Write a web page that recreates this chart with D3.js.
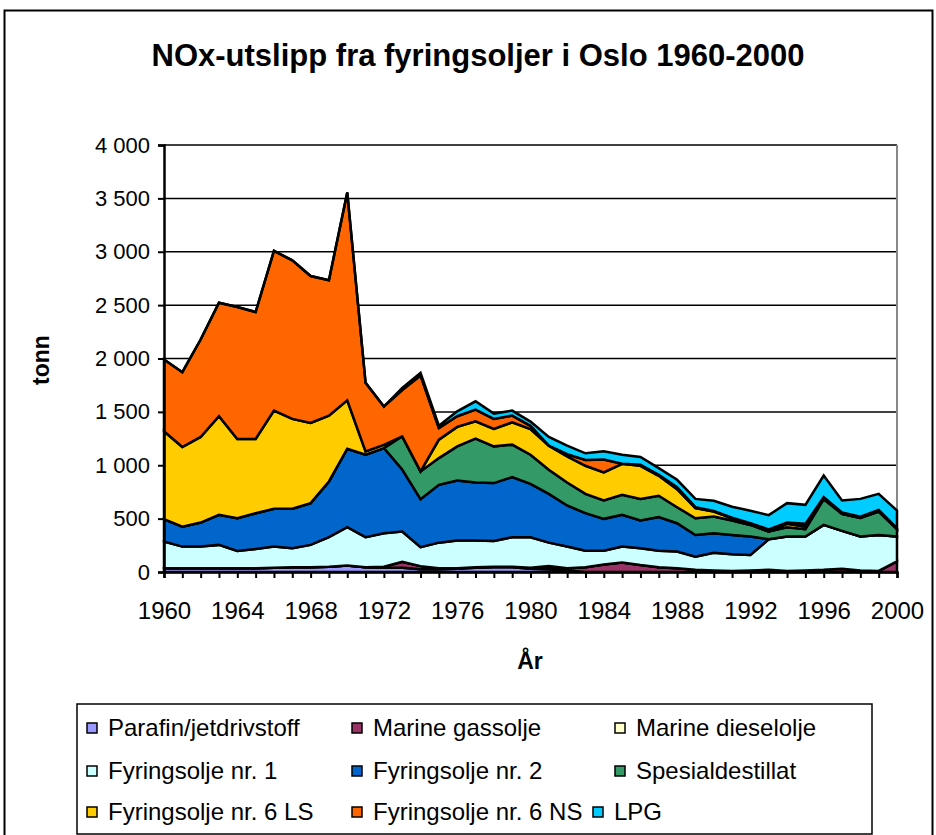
<!DOCTYPE html>
<html>
<head>
<meta charset="utf-8">
<script src="https://cdn.jsdelivr.net/npm/d3@7"></script>
<style>
  body { margin: 0; background: #fff; }
  svg text { font-family: "Liberation Sans", Arial, sans-serif; fill: #000; }
</style>
</head>
<body>
<svg id="chart" width="936" height="835"></svg>
<script>
// år og serier (tonn NOx), lest av figuren
const years = d3.range(1960, 2001)
const keys = ["parafin", "gassolje", "diesel", "nr1", "nr2", "spesial", "ls6", "ns6", "lpg"]
const labels = ["Parafin/jetdrivstoff", "Marine gassolje", "Marine dieselolje",
  "Fyringsolje nr. 1", "Fyringsolje nr. 2", "Spesialdestillat",
  "Fyringsolje nr. 6 LS", "Fyringsolje nr. 6 NS", "LPG"]
const colors = ["#9999FF", "#993366", "#FFFFCC", "#CCFFFF", "#0066CC", "#339966", "#FFCC00", "#FF6600", "#00CCFF"]

const parafin = [35,35,35,35,35,35,40,45,45,50,60,45,40,40,25,25,30,40,45,45,30,25,15,
  0,0,0,0,0,0,0,0,0,0,0,0,0,0,0,0,0,0]
const gassolje = [0,0,0,0,0,0,0,0,0,0,0,0,
  10,55,30,10,5,5,5,5,5,5,20,45,70,90,65,45,35,20,15,10,15,20,10,15,20,30,15,10,100]
const diesel = [0,0,0,0,0,0,0,0,0,0,0,0,0,0,0,0,0,0,0,0,5,25,
  0,0,0,0,0,0,0,0,0,0,0,0,0,0,0,0,0,0,0]
const nr1 = [250,203,203,219,162,181,198,177,209,276,359,281,313,284,177,240,259,249,241,276,
  286,220,203,155,130,148,157,155,156,124,166,156,145,287,322,317,421,355,317,337,232]
const nr2 = [210,187,225,281,307,335,354,370,391,522,736,773,798,581,450,542,563,545,542,563,
  500,457,385,351,298,297,260,315,266,203,182,181,172,0,0,0,0,0,0,0,0]
const spesial = [0,0,0,0,0,0,0,0,0,0,0,0,0,
  311,260,250,320,410,344,304,273,226,216,181,172,188,201,199,150,157,156,135,109,72,88,69,241,160,175,219,69]
const ls6 = [823,746,802,924,742,695,920,842,751,617,454,31,30,0,0,172,182,162,163,209,
  240,225,244,263,263,291,312,187,169,94,47,22,8,0,31,25,9,0,0,5,0]
const ns6 = [672,701,913,1064,1236,1189,1496,1486,1377,1268,1947,642,359,434,898,110,100,110,94,63,
  30,0,20,55,120,0,10,10,19,9,7,5,8,20,12,25,10,12,12,11,9]
const lpg = [0,0,0,0,0,0,0,0,0,0,0,0,0,
  20,26,22,46,78,50,47,40,82,81,62,78,85,72,62,69,78,94,103,116,134,182,178,203,113,166,150,166]
const yTicks = [0, 500, 1000, 1500, 2000, 2500, 3000, 3500, 4000]

const series = { parafin, gassolje, diesel, nr1, nr2, spesial, ls6, ns6, lpg }
const rows = years.map((yr, i) => {
  const r = { year: yr }
  keys.forEach(k => r[k] = series[k][i])
  return r
})

const svg = d3.select("#chart")
const pL = 164, pR = 897, pT = 145, pB = 572

const x = d3.scaleLinear().domain([1960, 2000]).range([pL, pR])
const y = d3.scaleLinear().domain([0, 4000]).range([pB, pT])
const fmt = d3.formatLocale({ decimal: ",", thousands: " ", grouping: [3], currency: ["", ""] }).format(",")

// ramme rundt hele figuren
svg.append("rect")
  .attr("x", 4.5).attr("y", 10.5).attr("width", 928).attr("height", 840)
  .attr("fill", "none").attr("stroke", "#000").attr("stroke-width", 2)

svg.append("text")
  .attr("x", 478).attr("y", 66)
  .attr("text-anchor", "middle")
  .attr("font-size", 31).attr("font-weight", "bold")
  .text("NOx-utslipp fra fyringsoljer i Oslo 1960-2000")

// rutenett
svg.append("g").selectAll("line")
  .data(yTicks.slice(1))
  .join("line")
  .attr("x1", pL).attr("x2", pR)
  .attr("y1", d => y(d)).attr("y2", d => y(d))
  .attr("stroke", "#000").attr("stroke-width", 1.5)

svg.append("line")
  .attr("x1", pR).attr("x2", pR).attr("y1", pT).attr("y2", pB)
  .attr("stroke", "#888").attr("stroke-width", 2)

const stacked = d3.stack().keys(keys)(rows)
const area = d3.area()
  .x(d => x(d.data.year))
  .y0(d => y(d[0]))
  .y1(d => y(d[1]))

svg.append("g").selectAll("path")
  .data(stacked)
  .join("path")
  .attr("d", area)
  .attr("fill", (d, i) => colors[i])
  .attr("stroke", "#000")
  .attr("stroke-width", 2.5)

// akser
const yAxis = svg.append("g")
  .attr("transform", `translate(${pL},0)`)
  .call(d3.axisLeft(y).tickValues(yTicks).tickFormat(fmt).tickSize(6).tickPadding(8))
yAxis.select(".domain").attr("stroke-width", 2.5)
yAxis.selectAll("line").attr("stroke-width", 2)
yAxis.selectAll("text").attr("font-size", 22).attr("font-family", null)

const xAxis = svg.append("g")
  .attr("transform", `translate(0,${pB})`)
  .call(d3.axisBottom(x).tickValues(years).tickFormat(d => d % 4 === 0 ? d : "").tickSize(6).tickPadding(24))
xAxis.select(".domain").attr("stroke-width", 2.5)
xAxis.selectAll("line").attr("stroke-width", 2)
xAxis.selectAll("text").attr("font-size", 24).attr("font-family", null)

svg.append("text")
  .attr("transform", "translate(49,360) rotate(-90)")
  .attr("text-anchor", "middle")
  .attr("font-size", 23).attr("font-weight", "bold")
  .text("tonn")

svg.append("text")
  .attr("x", 530).attr("y", 669)
  .attr("text-anchor", "middle")
  .attr("font-size", 23).attr("font-weight", "bold")
  .text("År")

// forklaring
svg.append("rect")
  .attr("x", 77).attr("y", 704).attr("width", 795).attr("height", 130)
  .attr("fill", "#fff").attr("stroke", "#000").attr("stroke-width", 1.5)

const legX = [[87, 352, 615], [87, 352, 615], [87, 352, 593]]
const legY = [728, 771, 812]
const leg = svg.append("g").selectAll("g")
  .data(keys)
  .join("g")
  .attr("transform", (d, i) => `translate(${legX[Math.floor(i / 3)][i % 3]},${legY[Math.floor(i / 3)]})`)
leg.append("rect")
  .attr("x", 0).attr("y", -5).attr("width", 10).attr("height", 10)
  .attr("fill", (d, i) => colors[i]).attr("stroke", "#000").attr("stroke-width", 1.5)
leg.append("text")
  .attr("x", 21).attr("y", 8)
  .attr("font-size", 24)
  .text((d, i) => labels[i])
</script>
</body>
</html>
